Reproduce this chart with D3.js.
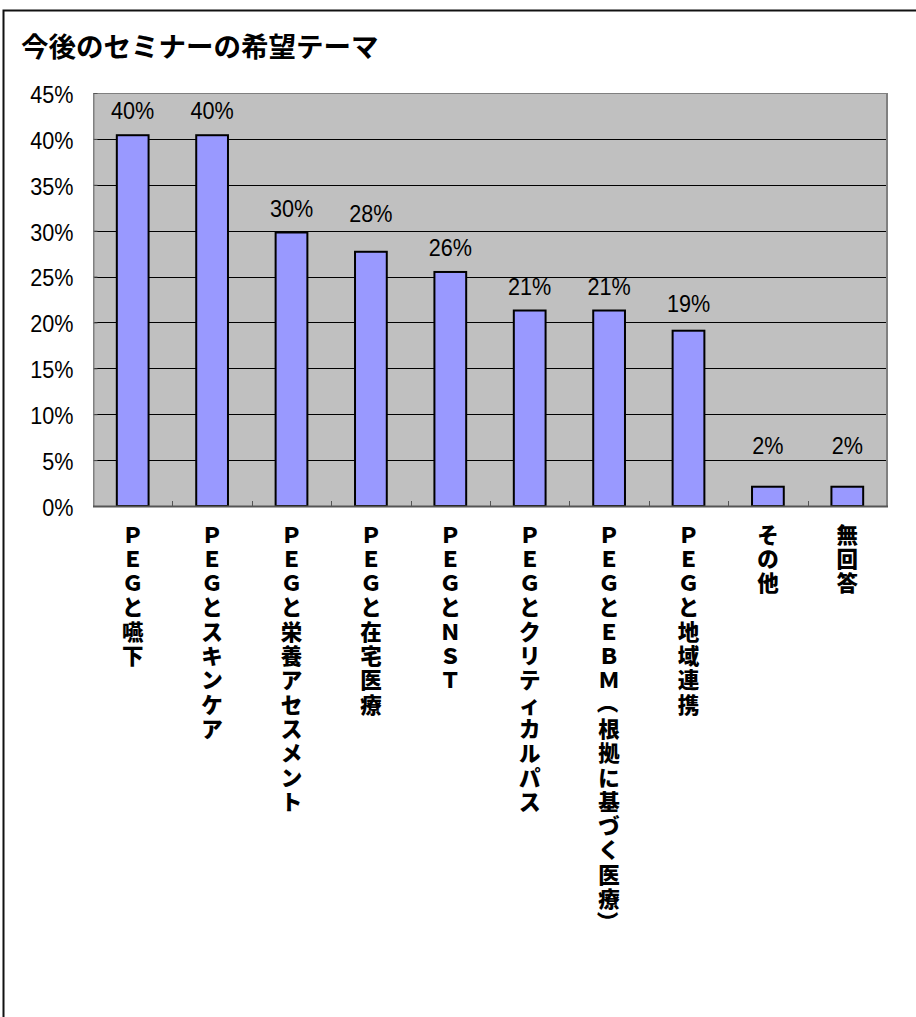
<!DOCTYPE html>
<html lang="ja">
<head>
<meta charset="utf-8">
<title>今後のセミナーの希望テーマ</title>
<script src="https://cdn.jsdelivr.net/npm/d3@7"></script>
<style>
  html, body { margin: 0; padding: 0; background: #fff; }
  svg { display: block; }
</style>
</head>
<body>
<script>
// Seminar themes requested for the future (share of respondents)
const categories = [
  "ＰＥＧと嚥下",
  "ＰＥＧとスキンケア",
  "ＰＥＧと栄養アセスメント",
  "ＰＥＧと在宅医療",
  "ＰＥＧとＮＳＴ",
  "ＰＥＧとクリティカルパス",
  "ＰＥＧとＥＢＭ（根拠に基づく医療）",
  "ＰＥＧと地域連携",
  "その他",
  "無回答"
];
const shares = [0.404, 0.404, 0.298, 0.277, 0.255, 0.213, 0.213, 0.191, 0.021, 0.021];
const yTicks = [0, 0.05, 0.10, 0.15, 0.20, 0.25, 0.30, 0.35, 0.40, 0.45];
const title = "今後のセミナーの希望テーマ";

// extra lift (px) for the value labels that sit higher above their bars
const labelLift = [0, 0, 0, 14, 0, 0, 0, 3, 17, 17];

const W = 916, H = 1017;
const plot = { left: 93, top: 93, right: 887, bottom: 506 };
const numFont = "'Liberation Sans', Arial, sans-serif";
const pct = d3.format(".0%");

const svg = d3.select("body").append("svg")
  .attr("width", W).attr("height", H)
  .attr("viewBox", `0 0 ${W} ${H}`);

svg.append("rect").attr("width", W).attr("height", H).attr("fill", "#fff");

// outer chart frame (open towards the right and bottom edges)
svg.append("path")
  .attr("d", `M3.5,${H} V10.5 H${W}`)
  .attr("fill", "none").attr("stroke", "#111").attr("stroke-width", 2);

// title
svg.append("text")
  .attr("x", 21).attr("y", 57)
  .attr("font-family", "'Noto Sans CJK JP', sans-serif")
  .attr("font-weight", 700)
  .attr("font-size", 27.5)
  .attr("fill", "#000")
  .text(title);

const x = d3.scaleBand()
  .domain(categories)
  .range([plot.left, plot.right])
  .paddingInner(0.6)
  .paddingOuter(0.3);

const y = d3.scaleLinear()
  .domain([0, 0.45])
  .range([plot.bottom, plot.top]);

// plot area background
svg.append("rect")
  .attr("x", plot.left).attr("y", plot.top)
  .attr("width", plot.right - plot.left).attr("height", plot.bottom - plot.top)
  .attr("fill", "#c0c0c0");

// horizontal gridlines
svg.append("g")
  .selectAll("line")
  .data(yTicks.filter(t => t > 0 && t < 0.45))
  .join("line")
  .attr("x1", plot.left).attr("x2", plot.right)
  .attr("y1", d => Math.round(y(d)) + 0.5).attr("y2", d => Math.round(y(d)) + 0.5)
  .attr("stroke", "#000").attr("stroke-width", 1);

// plot border: thin top/left, heavier right edge
svg.append("path")
  .attr("d", `M${plot.left + 0.5},${plot.bottom} V${plot.top + 0.5} H${plot.right}`)
  .attr("fill", "none").attr("stroke", "#808080").attr("stroke-width", 1);
svg.append("line")
  .attr("x1", plot.right).attr("x2", plot.right)
  .attr("y1", plot.top).attr("y2", plot.bottom + 1)
  .attr("stroke", "#808080").attr("stroke-width", 2);

// y axis with percent labels (narrowed digits)
const yAxis = d3.axisLeft(y)
  .tickValues(yTicks)
  .tickFormat(pct)
  .tickSize(-4)
  .tickPadding(0);
const gy = svg.append("g")
  .attr("transform", `translate(${plot.left + 0.5},0)`)
  .call(yAxis);
gy.select(".domain").attr("stroke", "#808080");
gy.selectAll(".tick line").attr("stroke", "#555");
gy.selectAll(".tick text")
  .attr("x", null)
  .attr("dy", null)
  .attr("dominant-baseline", "central")
  .attr("transform", "translate(-20,1) scale(0.9,1)")
  .attr("font-family", numFont)
  .attr("font-size", 24)
  .attr("fill", "#000");

// bars
const rows = categories.map((c, i) => ({ c, v: shares[i], lift: labelLift[i] }));
svg.append("g")
  .selectAll("rect")
  .data(rows)
  .join("rect")
  .attr("x", d => x(d.c))
  .attr("y", d => y(d.v))
  .attr("width", x.bandwidth())
  .attr("height", d => y(0) - y(d.v))
  .attr("fill", "#9999ff")
  .attr("stroke", "#000")
  .attr("stroke-width", 2);

// x axis line with category-boundary ticks
const step = x.step();
const boundaries = d3.range(1, categories.length).map(i => plot.left + i * step);
svg.append("line")
  .attr("x1", plot.left).attr("x2", plot.right + 1)
  .attr("y1", plot.bottom + 0.5).attr("y2", plot.bottom + 0.5)
  .attr("stroke", "#555").attr("stroke-width", 2);
svg.append("g")
  .selectAll("line")
  .data(boundaries)
  .join("line")
  .attr("x1", d => Math.round(d) + 0.5).attr("x2", d => Math.round(d) + 0.5)
  .attr("y1", plot.bottom).attr("y2", plot.bottom - 5)
  .attr("stroke", "#555").attr("stroke-width", 1);

// value labels above bars
svg.append("g")
  .selectAll("text")
  .data(rows)
  .join("text")
  .attr("text-anchor", "middle")
  .attr("transform", d =>
    `translate(${x(d.c) + x.bandwidth() / 2},${y(d.v) - 16 - d.lift}) scale(0.9,1)`)
  .attr("font-family", numFont)
  .attr("font-size", 24)
  .attr("fill", "#000")
  .text(d => pct(d.v));

// category labels, written top-to-bottom one character at a time
const charStep = 24.3;
const labelTop = 533;
const lg = svg.append("g")
  .attr("font-family", "'Noto Sans CJK JP', sans-serif")
  .attr("font-weight", 900)
  .attr("font-size", 21.5)
  .attr("fill", "#000");
categories.forEach(c => {
  const cx = x(c) + x.bandwidth() / 2;
  Array.from(c).forEach((ch, i) => {
    // brackets turn to run along the vertical line of text
    const rot = (ch === "（" || ch === "）") ? 90 : 0;
    lg.append("text")
      .attr("text-anchor", "middle")
      .attr("dominant-baseline", "central")
      .attr("transform", `translate(${cx},${labelTop + i * charStep}) rotate(${rot})`)
      .text(ch);
  });
});
</script>
</body>
</html>
